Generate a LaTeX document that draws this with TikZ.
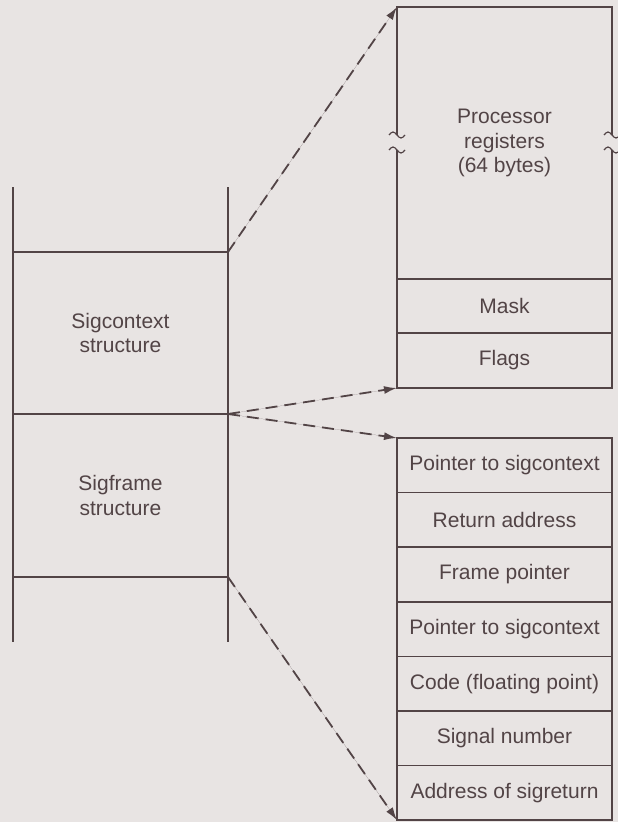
\documentclass[tikz,border=0pt]{standalone}
\usepackage{fontspec}
\setmainfont{Liberation Sans}
\usetikzlibrary{positioning, arrows.meta}
\definecolor{inkc}{RGB}{82,68,70}
\definecolor{paperc}{RGB}{232,228,227}

\begin{document}
\begin{tikzpicture}[
        x=1pt, y=-1pt,
        >={Latex[length=13pt, width=8pt]},
        cell/.style={draw=inkc, line width=1.6pt, rectangle, align=center, text=inkc, minimum width=215pt, inner sep=0pt, outer sep=0pt, font=\fontsize{21}{24.5}\selectfont},
        rail/.style={draw=inkc, line width=1.6pt},
        link/.style={->, draw=inkc, fill=inkc, line width=1.8pt, dash pattern=on 12pt off 7pt}
    ]
    \fill[paperc] (0,0) rectangle (618,822);
    \useasboundingbox (0,0) rectangle (618,822);

    % --- Stack ---
    \node[cell, minimum height=162pt] (sigctx) at (120.5, 333) {Sigcontext\\structure};
    \node[cell, minimum height=163pt, below=0pt of sigctx] (sigframe) {Sigframe\\structure};
    \draw[rail] (sigctx.north west) -- ++(0,-65);
    \draw[rail] (sigctx.north east) -- ++(0,-65);
    \draw[rail] (sigframe.south west) -- ++(0,65);
    \draw[rail] (sigframe.south east) -- ++(0,65);

    % --- Sigcontext layout ---
    \node[cell, draw=none, minimum height=272pt] (regs) at (504.5, 143) {Processor\\registers\\(64 bytes)};
    \node[cell, minimum height=54pt, below=0pt of regs] (mask) {Mask};
    \node[cell, minimum height=55pt, below=0pt of mask] (flags) {Flags};

    % broken sides of the register block
    \coordinate (brkhi) at (0, 135);
    \coordinate (brklo) at (0, 150);
    \draw[rail] (regs.west |- brkhi) -- (regs.north west) -- (regs.north east) -- (regs.east |- brkhi);
    \draw[rail] (regs.west |- brklo) -- (regs.south west);
    \draw[rail] (regs.east |- brklo) -- (regs.south east);
    \foreach \side in {west, east} {
        \foreach \brk in {brkhi, brklo} {
            \draw[rail, line width=1.2pt] ([xshift=-8pt]regs.\side |- \brk) sin ++(4,-3) cos ++(4,3) sin ++(4,3) cos ++(4,-3);
        }
    }

    % --- Sigframe layout ---
    \foreach \txt [count=\i] in {Pointer to sigcontext, Return address, Frame pointer, Pointer to sigcontext, {Code (floating point)}, Signal number, Address of sigreturn} {
        \node[cell, minimum height=54.6pt] (f\i) at (504.5, {465.3+54.6*(\i-1)}) {\txt};
    }

    % --- Expansion arrows ---
    \draw[link] (sigctx.north east) -- (regs.north west);
    \draw[link] (sigctx.south east) -- (flags.south west);
    \draw[link] (sigctx.south east) -- (f1.north west);
    \draw[link] (sigframe.south east) -- (f7.south west);

\end{tikzpicture}
\end{document}
